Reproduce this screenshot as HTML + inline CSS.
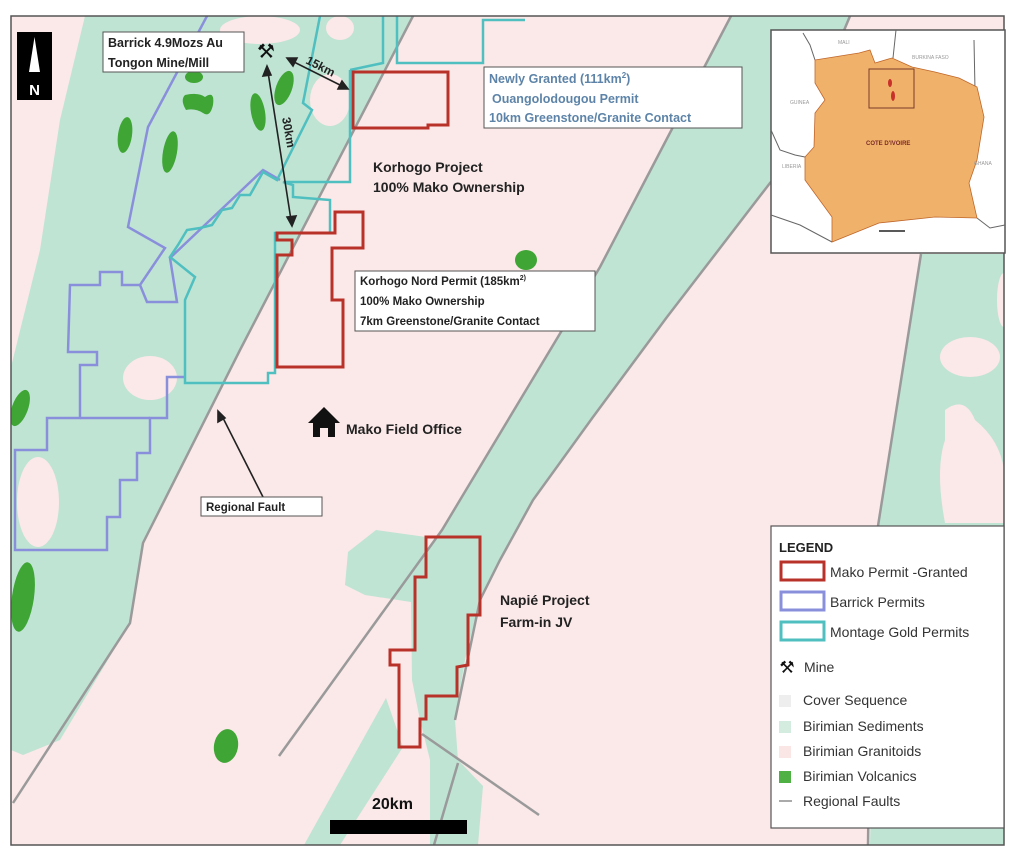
<!DOCTYPE html>
<html><head><meta charset="utf-8"><style>
html,body{margin:0;padding:0;background:#fff;}
svg{display:block;}
text{font-family:"Liberation Sans",sans-serif;}
</style></head><body>
<svg width="1024" height="861" viewBox="0 0 1024 861" xmlns="http://www.w3.org/2000/svg">
<defs><clipPath id="mc"><rect x="11" y="16" width="993" height="829"/></clipPath></defs>
<rect width="1024" height="861" fill="#fff"/>
<g clip-path="url(#mc)">
<rect x="11" y="16" width="993" height="829" fill="#fbe8e8"/>
<!-- left green band -->
<polygon points="85,16 413,16 240,350 143,543 130,623 60,740 23,755 11,750 11,367 40,250 60,120" fill="#bfe4d4"/>
<!-- pink blobs in left band -->
<ellipse cx="150" cy="378" rx="27" ry="22" fill="#fbe8e8"/>
<ellipse cx="38" cy="502" rx="21" ry="45" fill="#fbe8e8"/>
<ellipse cx="330" cy="100" rx="20" ry="26" fill="#fbe8e8"/>
<ellipse cx="340" cy="28" rx="14" ry="12" fill="#fbe8e8"/>
<ellipse cx="260" cy="30" rx="40" ry="14" fill="#fbe8e8"/>
<!-- center band -->
<polygon points="731,16 850,16 790,160 770,183 667,317 593,417 533,500 500,560 480,600 465,660 455,720 458,760 483,786 478,845 430,845 430,760 420,720 412,680 411,602 416,570 442,530 460,500 600,267 673,127" fill="#bfe4d4"/>
<!-- napie lobe -->
<polygon points="348,552 376,530 426,537 420,600 411,602 365,595 345,585" fill="#bfe4d4"/>
<polygon points="386,698 403,747 340,845 304,845" fill="#bfe4d4"/>
<!-- right band -->
<polygon points="921,254 1004,254 1004,845 870,845 878,526" fill="#bfe4d4"/>
<ellipse cx="970" cy="357" rx="30" ry="20" fill="#fbe8e8"/>
<path d="M945,410 Q965,395 975,420 Q1000,440 1004,470 L1004,523 L945,523 Q935,470 945,440 Z" fill="#fbe8e8"/>
<ellipse cx="1004" cy="300" rx="7" ry="27" fill="#fbe8e8"/>
<!-- faults -->
<g stroke="#9a9a9a" stroke-width="2.5" fill="none">
<polyline points="413,16 240,350 143,543 130,623 13,803"/>
<polyline points="731,16 673,127 600,267 460,500 442,530 279,756"/>
<polyline points="850,16 790,160 770,183 667,317 593,417 533,500 500,560 480,600 455,720"/>
<polyline points="458,763 434,845"/>
<polyline points="422,734 539,815"/>
<polyline points="921,254 878,526"/>
<polyline points="872,560 868,845"/>
</g>
<!-- volcanics -->
<g fill="#3fa535">
<ellipse cx="194" cy="77" rx="9" ry="6"/>
<path d="M185,95 Q198,92 205,97 Q215,90 213,105 Q210,118 203,113 Q195,108 186,110 Q180,100 185,95Z"/>
<ellipse cx="125" cy="135" rx="7" ry="18" transform="rotate(8 125 135)"/>
<ellipse cx="170" cy="152" rx="7" ry="21" transform="rotate(10 170 152)"/>
<ellipse cx="258" cy="112" rx="7" ry="19" transform="rotate(-10 258 112)"/>
<ellipse cx="284" cy="88" rx="8" ry="18" transform="rotate(20 284 88)"/>
<ellipse cx="20" cy="408" rx="8" ry="19" transform="rotate(20 20 408)"/>
<ellipse cx="23" cy="597" rx="11" ry="35" transform="rotate(8 23 597)"/>
<ellipse cx="226" cy="746" rx="12" ry="17" transform="rotate(10 226 746)"/>
<ellipse cx="526" cy="260" rx="11" ry="10"/>
</g>
<!-- Barrick -->
<g fill="none" stroke="#8a8fdc" stroke-width="2.5">
<polyline points="207,16 148,127 128,227 165,248 140,285 122,285 122,272 100,272 100,285 70,285 68,352 97,352 97,365 80,365 80,418 47,418 47,450 15,450 15,550 107,550 107,517 120,517 120,480 137,480 137,453 150,453 150,418 167,418 167,377 185,377"/>
<polyline points="80,418 150,418"/>
<polyline points="140,285 147,302 177,302 170,258 263,170 280,180"/>
</g>
<!-- Montage -->
<g fill="none" stroke="#4fbfc0" stroke-width="2.5">
<polyline points="320,16 303,103 312,110 277,180 263,172 250,195 240,195 232,208 222,210 212,225 200,228 187,230 178,245 170,257 195,277 185,300 185,383 268,383 268,373 275,373 275,233 330,233 330,200 293,197 293,185 283,182 350,182 350,70"/>
<polyline points="383,16 383,63 350,70"/>
<polyline points="397,16 397,63 483,63 483,20 525,20"/>
</g>
<!-- Mako red -->
<g fill="none" stroke="#b8322a" stroke-width="3">
<polygon points="353,72 448,72 448,125 428,125 428,128 353,128"/>
<polygon points="277,233 335,233 335,212 363,212 363,248 332,248 332,300 343,300 343,367 277,367 277,255 292,255 292,240 277,240"/>
<polygon points="426,537 480,537 480,615 468,615 468,665 457,667 457,696 426,696 426,719 420,719 420,747 399,747 399,665 390,665 390,650 415,650 415,577 426,577"/>
</g>
</g>
<rect x="11" y="16" width="993" height="829" fill="none" stroke="#555" stroke-width="1.5"/>

<!-- North arrow -->
<rect x="17" y="32" width="35" height="68" fill="#000"/>
<polygon points="34.5,37 29,72 40,72" fill="#fff"/>
<text x="34.5" y="95" font-size="15" font-weight="bold" fill="#fff" text-anchor="middle">N</text>

<!-- Barrick label -->
<rect x="103" y="32" width="141" height="40" fill="#fff" stroke="#555"/>
<text x="108" y="47" font-size="12.5" font-weight="bold" fill="#222">Barrick 4.9Mozs Au</text>
<text x="108" y="67" font-size="12.5" font-weight="bold" fill="#222">Tongon Mine/Mill</text>
<text x="266" y="58" font-size="20" text-anchor="middle" fill="#111">⚒</text>

<!-- arrows -->
<g stroke="#222" stroke-width="1.6" fill="#222">
<line x1="292" y1="61" x2="342" y2="86"/>
<polygon points="287,58 297,58 293,66"/>
<polygon points="348,89 338,89 342,81"/>
<line x1="268" y1="72" x2="291" y2="220"/>
<polygon points="267,66 263,76 271,75"/>
<polygon points="292,226 287,217 296,216"/>
<line x1="222" y1="416" x2="263" y2="497"/>
<polygon points="218,411 218,422 225,418"/>
</g>
<text x="305" y="63" font-size="12" font-weight="bold" fill="#222" transform="rotate(27 305 63)">15km</text>
<text x="282" y="118" font-size="12" font-weight="bold" fill="#222" transform="rotate(80 282 118)">30km</text>

<!-- Newly granted -->
<rect x="484" y="67" width="258" height="61" fill="#fff" stroke="#555"/>
<text x="489" y="83" font-size="12.5" font-weight="bold" fill="#5d84a8">Newly Granted (111km<tspan font-size="8" dy="-5">2</tspan><tspan dy="5">)</tspan></text>
<text x="492" y="103" font-size="12.5" font-weight="bold" fill="#5d84a8">Ouangolodougou Permit</text>
<text x="489" y="122" font-size="12.5" font-weight="bold" fill="#5d84a8">10km Greenstone/Granite Contact</text>

<text x="373" y="172" font-size="14" font-weight="bold" fill="#222">Korhogo Project</text>
<text x="373" y="192" font-size="14" font-weight="bold" fill="#222">100% Mako  Ownership</text>

<rect x="355" y="271" width="240" height="60" fill="#fff" stroke="#555"/>
<text x="360" y="285" font-size="11.5" font-weight="bold" fill="#222">Korhogo Nord Permit (185km<tspan font-size="7" dy="-5">2)</tspan></text>
<text x="360" y="305" font-size="11.5" font-weight="bold" fill="#222">100% Mako Ownership</text>
<text x="360" y="325" font-size="11.5" font-weight="bold" fill="#222">7km Greenstone/Granite Contact</text>

<!-- house -->
<polygon points="324,407 308,423 313,423 313,437 320,437 320,428 328,428 328,437 335,437 335,423 340,423" fill="#111"/>
<text x="346" y="434" font-size="14" font-weight="bold" fill="#222">Mako Field Office</text>

<rect x="201" y="497" width="121" height="19" fill="#fff" stroke="#555"/>
<text x="206" y="511" font-size="11.5" font-weight="bold" fill="#222">Regional Fault</text>

<text x="500" y="605" font-size="14" font-weight="bold" fill="#222">Napié Project</text>
<text x="500" y="627" font-size="14" font-weight="bold" fill="#222">Farm-in JV</text>

<text x="372" y="809" font-size="16" font-weight="bold" fill="#111">20km</text>
<rect x="330" y="820" width="137" height="14" fill="#000"/>

<!-- inset -->
<rect x="771" y="30" width="234" height="223" fill="#fff" stroke="#555" stroke-width="1.5"/>
<g fill="none" stroke="#666" stroke-width="1">
<polyline points="803,33 810,45 815,60"/>
<polyline points="896,30 893,58"/>
<polyline points="974,40 975,90"/>
<polyline points="771,130 780,150 795,155 805,157"/>
<polyline points="771,215 800,225 832,242"/>
<polyline points="977,218 990,228 1005,225"/>
</g>
<polygon points="815,60 859,53 870,50 875,63 892,58 912,67 935,72 959,78 977,87 984,117 977,160 969,183 977,218 935,217 879,223 832,242 832,217 805,180 805,157 814,147 815,113 825,100 815,83" fill="#f0b26a" stroke="#c0662a" stroke-width="0.8"/>
<rect x="869" y="69" width="45" height="39" fill="none" stroke="#7a3a2a" stroke-width="1"/>
<ellipse cx="890" cy="83" rx="2" ry="4" fill="#c8302a"/>
<ellipse cx="893" cy="96" rx="2" ry="5" fill="#c8302a"/>
<g font-size="5" fill="#999">
<text x="838" y="44">MALI</text>
<text x="912" y="59">BURKINA FASO</text>
<text x="790" y="104">GUINEA</text>
<text x="782" y="168">LIBERIA</text>
<text x="974" y="165">GHANA</text>
</g>
<text x="866" y="145" font-size="6" font-weight="bold" fill="#7a2a2a">COTE D'IVOIRE</text>
<line x1="879" y1="231" x2="905" y2="231" stroke="#222" stroke-width="1.5"/>

<!-- legend -->
<rect x="771" y="526" width="233" height="302" fill="#fff" stroke="#555" stroke-width="1.2"/>
<text x="779" y="552" font-size="13" font-weight="bold" fill="#222">LEGEND</text>
<rect x="781" y="562" width="43" height="18" fill="#fff" stroke="#b8322a" stroke-width="3"/>
<rect x="781" y="592" width="43" height="18" fill="#fff" stroke="#8a8fdc" stroke-width="3"/>
<rect x="781" y="622" width="43" height="18" fill="#fff" stroke="#4fbfc0" stroke-width="3"/>
<g font-size="14" fill="#333">
<text x="830" y="577">Mako Permit -Granted</text>
<text x="830" y="607">Barrick Permits</text>
<text x="830" y="637">Montage Gold Permits</text>
<text x="804" y="672">Mine</text>
<text x="803" y="705">Cover Sequence</text>
<text x="803" y="731">Birimian Sediments</text>
<text x="803" y="756">Birimian Granitoids</text>
<text x="803" y="781">Birimian Volcanics</text>
<text x="803" y="806">Regional Faults</text>
</g>
<text x="787" y="673" font-size="17" text-anchor="middle" fill="#111">⚒</text>
<rect x="779" y="695" width="12" height="12" fill="#eeeeee"/>
<rect x="779" y="721" width="12" height="12" fill="#d3ecdf"/>
<rect x="779" y="746" width="12" height="12" fill="#fbe6e6"/>
<rect x="779" y="771" width="12" height="12" fill="#4fb043"/>
<line x1="779" y1="801" x2="792" y2="801" stroke="#aaa" stroke-width="2"/>
</svg>
</body></html>
